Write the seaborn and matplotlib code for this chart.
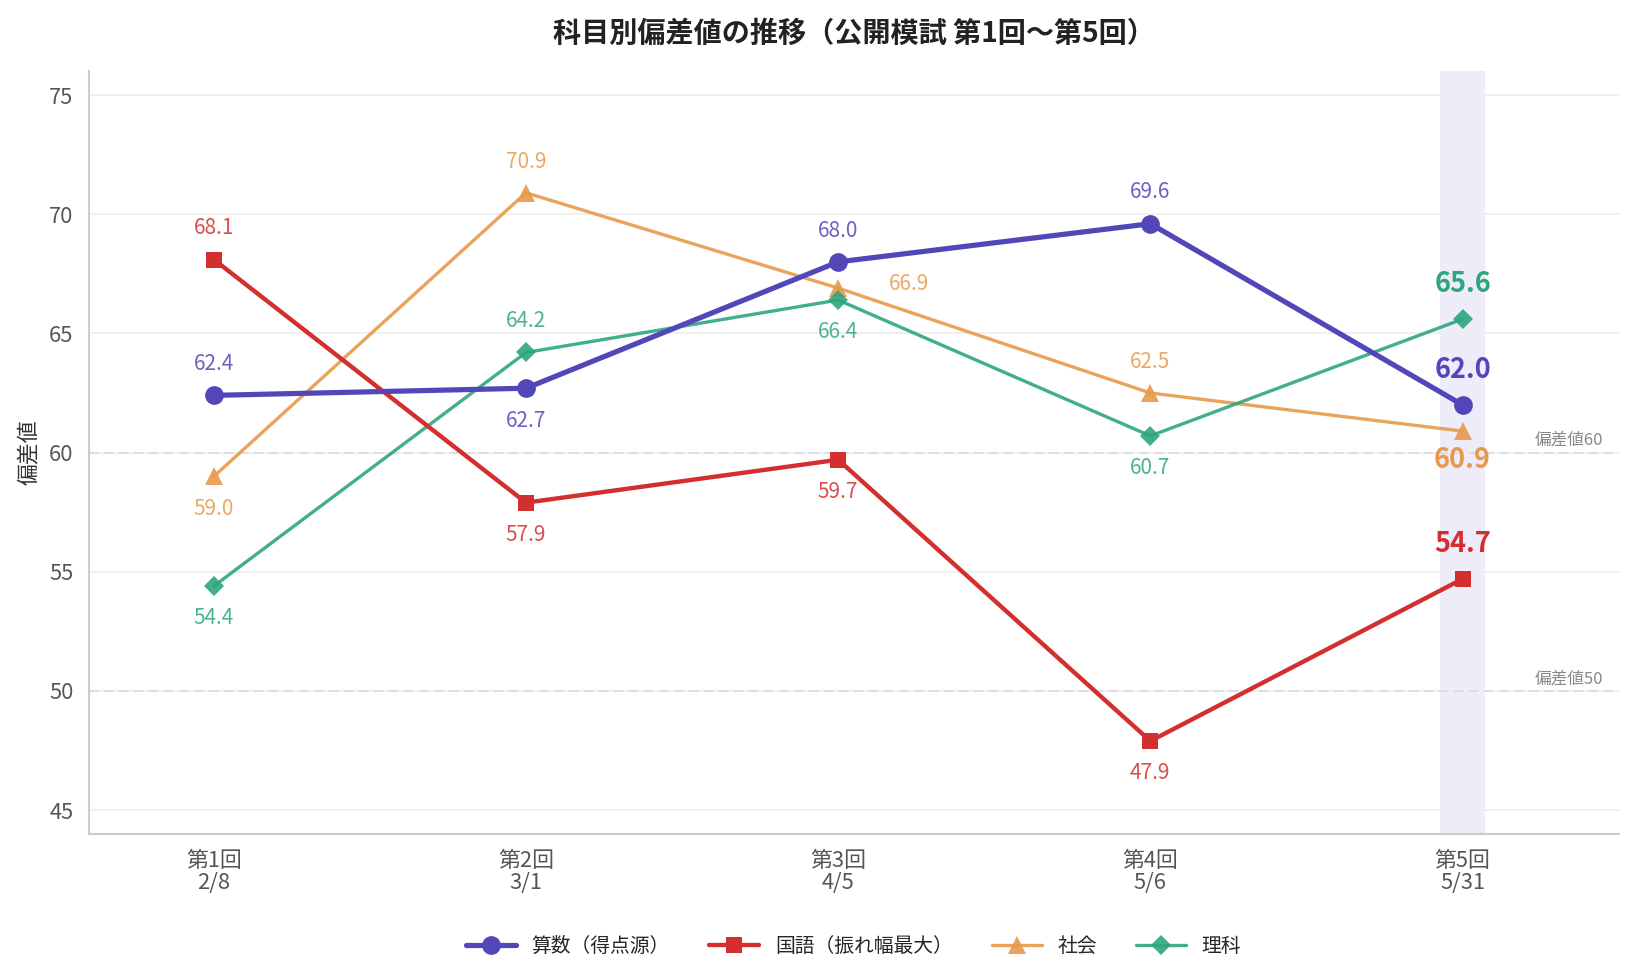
import pandas as pd
import matplotlib
matplotlib.use("Agg")
import matplotlib.pyplot as plt
import seaborn as sns

# data
rounds = ["第1回\n2/8", "第2回\n3/1", "第3回\n4/5", "第4回\n5/6", "第5回\n5/31"]
math_scores = [62.4, 62.7, 68.0, 69.6, 62.0]
japanese_scores = [68.1, 57.9, 59.7, 47.9, 54.7]
social_scores = [59.0, 70.9, 66.9, 62.5, 60.9]
science_scores = [54.4, 64.2, 66.4, 60.7, 65.6]
subjects = ["算数（得点源）", "国語（振れ幅最大）", "社会", "理科"]
ref_levels = [60, 50]

series = {
    "社会": social_scores,
    "理科": science_scores,
    "国語（振れ幅最大）": japanese_scores,
    "算数（得点源）": math_scores,
}
rows = []
for name, vals in series.items():
    for i, v in enumerate(vals):
        rows.append({"subject": name, "idx": i, "score": v})
df = pd.DataFrame(rows)

colors = {
    "算数（得点源）": "#5147B9",
    "国語（振れ幅最大）": "#D32F2F",
    "社会": "#E8994B",
    "理科": "#2DA67E",
}
markers = {"算数（得点源）": "o", "国語（振れ幅最大）": "s", "社会": "^", "理科": "D"}
lws = {"算数（得点源）": 2.5, "国語（振れ幅最大）": 2.1, "社会": 1.6, "理科": 1.6}
msz = {"算数（得点源）": 9, "国語（振れ幅最大）": 7.5, "社会": 8.5, "理科": 7}
alphas = {"算数（得点源）": 1.0, "国語（振れ幅最大）": 1.0, "社会": 0.9, "理科": 0.9}
zs = {"社会": 3, "理科": 4, "国語（振れ幅最大）": 5, "算数（得点源）": 6}

# label placement: offset in points (dx, dy) per point
label_pos = {
    "算数（得点源）": [(0, 15), (0, -15.5), (0, 15), (0, 15), (0, 17)],
    "国語（振れ幅最大）": [(0, 15), (0, -15.5), (0, -15.5), (0, -15.5), (0, 17)],
    "社会": [(0, -15.5), (0, 15), (34, 2), (0, 15), (0, -14)],
    "理科": [(0, -15.5), (0, 15), (0, -15.5), (0, -15.5), (0, 17)],
}

sns.set_theme(style="white")
plt.rcParams["font.family"] = ["Noto Sans CJK JP", "DejaVu Sans"]

fig, ax = plt.subplots(figsize=(10.9, 6.5), dpi=150)
fig.subplots_adjust(left=0.0544, right=0.990, top=0.927, bottom=0.1446)

# highlight latest round
ax.axvspan(4 - 0.072, 4 + 0.072, color="#EEECF8", zorder=0, lw=0)

for lvl in ref_levels:
    ax.axhline(lvl, color="#dddddd", ls=(0, (5, 3)), lw=0.9, zorder=1)
    ax.text(4.45, lvl + 0.15, f"偏差値{lvl}", ha="right", va="bottom",
            fontsize=8, color="#888888")

for name in series:
    sub = df[df["subject"] == name]
    sns.lineplot(data=sub, x="idx", y="score", ax=ax, color=colors[name],
                 lw=lws[name], marker=markers[name], markersize=msz[name],
                 markeredgewidth=0, alpha=alphas[name], zorder=zs[name],
                 label=name, legend=False)
    for i, v in enumerate(sub["score"]):
        dx, dy = label_pos[name][i]
        last = i == len(sub) - 1
        ax.annotate(f"{v:.1f}", (i, v), xytext=(dx, dy), textcoords="offset points",
                    ha="center", va="center",
                    fontsize=13 if last else 10,
                    fontweight="bold" if last else "normal",
                    color=colors[name], alpha=1.0 if last else 0.85, zorder=10)

ax.set_xlim(-0.4, 4.5)
ax.set_ylim(44, 76)
ax.set_xticks(range(len(rounds)))
ax.set_xticklabels(rounds, fontsize=10.5, color="#555555", linespacing=1.0)
ax.set_yticks([45, 50, 55, 60, 65, 70, 75])
ax.tick_params(axis="y", labelsize=10.5, labelcolor="#555555", length=4, color="#999999")
ax.tick_params(axis="x", length=4, color="#999999")
ax.yaxis.grid(True, color="#eeeeee", lw=0.8)
ax.set_axisbelow(True)
ax.set_xlabel("")
ax.set_ylabel("偏差値", fontsize=10.5, color="#333333")
sns.despine(ax=ax)
for s in ["left", "bottom"]:
    ax.spines[s].set_color("#cccccc")
    ax.spines[s].set_linewidth(1.0)

ax.set_title("科目別偏差値の推移（公開模試 第1回〜第5回）", fontsize=13.5,
             fontweight="bold", color="#222222", pad=14)

handles, labels = ax.get_legend_handles_labels()
order = [labels.index(s) for s in subjects]
ax.legend([handles[i] for i in order], [labels[i] for i in order],
          loc="upper center", bbox_to_anchor=(0.5, -0.11), ncol=4, frameon=False,
          fontsize=9.5, handlelength=2.5, columnspacing=2.0)

plt.savefig("out.png", dpi=150)
